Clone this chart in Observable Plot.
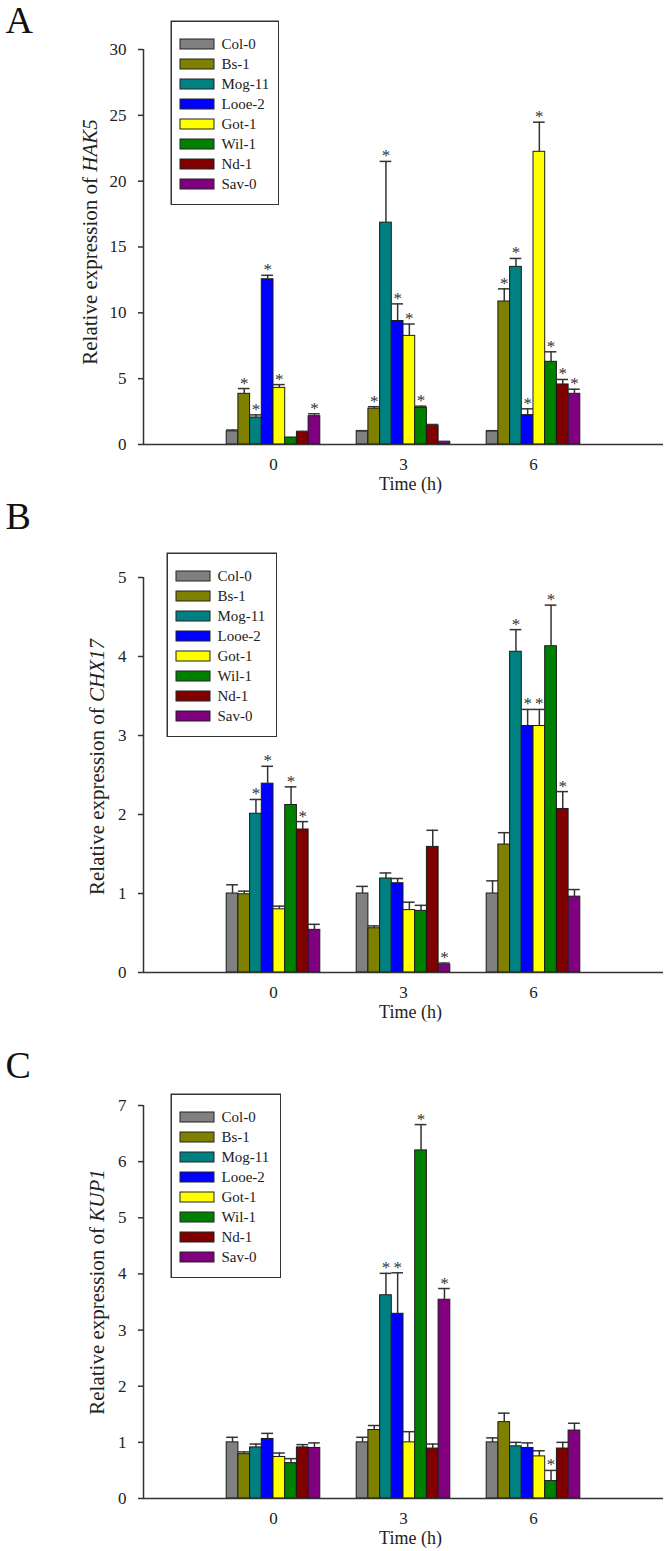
<!DOCTYPE html>
<html><head><meta charset="utf-8">
<script src="https://cdn.jsdelivr.net/npm/d3@7"></script>
<script src="https://cdn.jsdelivr.net/npm/@observablehq/plot@0.6"></script>
<style>
html,body{margin:0;padding:0;background:#fff;overflow:hidden;}
.panel{position:relative;width:672px;}
.panel svg{display:block;}
</style></head><body><div id="root"></div>
<script>
// ---------- data ----------
const times = [0, 3, 6];
const accessions = ["Col-0", "Bs-1", "Mog-11", "Looe-2", "Got-1", "Wil-1", "Nd-1", "Sav-0"];
const colors = ["#808080", "#808000", "#008080", "#0000ff", "#ffff00", "#008000", "#800000", "#800080"];

// HAK5 (rows: 0 h, 3 h, 6 h; columns: accessions)
const hak5Mean = [
  [1.0, 3.85, 2.05, 12.55, 4.3, 0.5, 0.95, 2.15],
  [1.0, 2.72, 16.85, 9.38, 8.25, 2.78, 1.42, 0.2],
  [1.0, 10.86, 13.49, 2.23, 22.23, 6.28, 4.56, 3.85]
];
const hak5Err = [
  [0.1, 0.4, 0.2, 0.3, 0.25, 0.05, 0.05, 0.18],
  [0.05, 0.15, 4.65, 1.3, 0.9, 0.13, 0.1, 0.03],
  [0.05, 0.96, 0.64, 0.48, 2.25, 0.76, 0.38, 0.35]
];
const hak5Sig = [
  [0, 1, 1, 1, 1, 0, 0, 1],
  [0, 1, 1, 1, 1, 1, 0, 0],
  [0, 1, 1, 1, 1, 1, 1, 1]
];
const hak5Ticks = [0, 5, 10, 15, 20, 25, 30];

// CHX17
const chx17Mean = [
  [1.0, 0.99, 2.01, 2.39, 0.8, 2.12, 1.81, 0.54],
  [1.0, 0.56, 1.19, 1.13, 0.79, 0.78, 1.59, 0.1],
  [1.0, 1.62, 4.06, 3.12, 3.12, 4.13, 2.07, 0.96]
];
const chx17Err = [
  [0.11, 0.04, 0.18, 0.22, 0.04, 0.23, 0.1, 0.07],
  [0.09, 0.03, 0.07, 0.06, 0.1, 0.07, 0.21, 0.02],
  [0.16, 0.15, 0.28, 0.21, 0.21, 0.52, 0.22, 0.09]
];
const chx17Sig = [
  [0, 0, 1, 1, 0, 1, 1, 0],
  [0, 0, 0, 0, 0, 0, 0, 1],
  [0, 0, 1, 1, 1, 1, 1, 0]
];
const chx17Ticks = [0, 1, 2, 3, 4, 5];

// KUP1
const kup1Mean = [
  [1.0, 0.79, 0.91, 1.06, 0.74, 0.63, 0.91, 0.9],
  [1.0, 1.22, 3.62, 3.29, 1.0, 6.2, 0.89, 3.54],
  [1.0, 1.36, 0.93, 0.9, 0.75, 0.31, 0.89, 1.21]
];
const kup1Err = [
  [0.09, 0.04, 0.06, 0.1, 0.07, 0.08, 0.05, 0.09],
  [0.09, 0.08, 0.39, 0.73, 0.19, 0.46, 0.08, 0.2],
  [0.08, 0.16, 0.07, 0.09, 0.1, 0.19, 0.11, 0.13]
];
const kup1Sig = [
  [0, 0, 0, 0, 0, 0, 0, 0],
  [0, 0, 1, 1, 0, 1, 0, 1],
  [0, 0, 0, 0, 0, 1, 0, 0]
];
const kup1Ticks = [0, 1, 2, 3, 4, 5, 6, 7];

// ---------- drawing ----------
const FONT = "'Liberation Serif', 'Times New Roman', Times, serif";
const barW = 0.27; // width of one bar in time units
const x1 = d => d.time + (d.i - 4) * barW;
const x2 = d => d.time + (d.i - 3) * barW;
const xc = d => d.time + (d.i - 3.5) * barW;

function rows(mean, err, sig) {
  return times.flatMap((t, ti) => accessions.map((acc, i) => ({
    time: t, acc, i, mean: mean[ti][i], err: err[ti][i], sig: sig[ti][i] === 1
  })));
}

function legend(left, top, w) {
  const svg = Plot.plot({
    width: w, height: 185, margin: 0, axis: null,
    style: {fontFamily: FONT, fontSize: "15px", background: "#fff", color: "#222"},
    x: {type: "identity"},
    y: {type: "band", domain: accessions, range: [6, 182], padding: 0.5},
    color: {domain: accessions, range: colors},
    marks: [
      Plot.barX(accessions, {y: d => d, x1: 10, x2: 44, fill: d => d, stroke: "#222", strokeWidth: 1}),
      Plot.text(accessions, {y: d => d, x: 51, text: d => d, textAnchor: "start", fill: "#222", fontSize: 15, fontFamily: FONT}),
      Plot.frame({stroke: "#333", strokeWidth: 1.5, inset: 0.75})
    ]
  });
  svg.style.position = "absolute";
  svg.style.left = left + "px";
  svg.style.top = top + "px";
  return svg;
}

function panel(cfg) {
  const data = rows(cfg.mean, cfg.err, cfg.sig);
  const label = "Relative expression of " + cfg.gene;
  const svg = Plot.plot({
    width: 672, height: cfg.height,
    marginLeft: 143, marginRight: 9, marginTop: cfg.mt, marginBottom: cfg.mb,
    style: {fontFamily: FONT, fontSize: "17px", color: "#222", background: "transparent", overflow: "visible"},
    x: {domain: [-3, 9]},
    y: {domain: [0, cfg.ticks[cfg.ticks.length - 1]]},
    color: {domain: accessions, range: colors},
    marks: [
      Plot.rect(data, {x1, x2, y1: 0, y2: "mean", fill: "acc", stroke: "#1a1a1a", strokeWidth: 1}),
      Plot.ruleX(data, {x: xc, y1: "mean", y2: d => d.mean + d.err, stroke: "#333", strokeWidth: 1.5}),
      Plot.ruleY(data, {y: d => d.mean + d.err, x1, x2, stroke: "#333", strokeWidth: 1.5}),
      Plot.text(data.filter(d => d.sig), {x: xc, y: d => d.mean + d.err, text: () => "*", lineAnchor: "bottom", fontSize: 17, fontFamily: FONT, fill: "#333"}),
      Plot.ruleY([0], {stroke: "#333", strokeWidth: 1.5}),
      Plot.ruleX([-3], {stroke: "#333", strokeWidth: 1.5}),
      Plot.axisY({ticks: cfg.ticks, tickFormat: d => String(d), tickSize: 5, tickPadding: 12, label: null, stroke: "#333", strokeWidth: 1.5, fill: "#222", fontSize: 17, fontFamily: FONT}),
      Plot.axisX({ticks: times, tickSize: 0, tickPadding: 13, label: null, tickFormat: d => String(d), fill: "#222", fontSize: 17, fontFamily: FONT}),
      Plot.text([cfg.letter], {frameAnchor: "top-left", dx: -138, dy: cfg.letterDy, textAnchor: "start", lineAnchor: "bottom", fontSize: 38, fontFamily: FONT, fill: "#111"}),
      Plot.text([label], {frameAnchor: "left", rotate: -90, dx: cfg.labelDx, dy: cfg.labelDy, textAnchor: "middle", lineAnchor: "bottom", fontSize: 21, fontFamily: FONT, fill: "#222"}),
      Plot.text(["Time (h)"], {frameAnchor: "bottom", dx: 7, dy: 45, textAnchor: "middle", lineAnchor: "bottom", fontSize: 18, fontFamily: FONT, fill: "#222"})
    ]
  });
  // italicise gene name in the y label
  svg.querySelectorAll("text").forEach(t => {
    if (t.textContent === label) {
      t.textContent = "Relative expression of ";
      const ts = document.createElementNS("http://www.w3.org/2000/svg", "tspan");
      ts.setAttribute("font-style", "italic");
      ts.textContent = cfg.gene;
      t.appendChild(ts);
    }
  });
  const div = document.createElement("div");
  div.className = "panel";
  div.style.height = cfg.height + "px";
  div.appendChild(svg);
  div.appendChild(legend(cfg.legend[0], cfg.legend[1], cfg.legend[2]));
  return div;
}

const root = document.getElementById("root");
root.appendChild(panel({letter: "A", gene: "HAK5", mean: hak5Mean, err: hak5Err, sig: hak5Sig, ticks: hak5Ticks,
  height: 500, mt: 49, mb: 56, letterDy: -17, labelDx: -47, labelDy: -5, legend: [170, 20, 109]}));
root.appendChild(panel({letter: "B", gene: "CHX17", mean: chx17Mean, err: chx17Err, sig: chx17Sig, ticks: chx17Ticks,
  height: 530, mt: 77, mb: 58, letterDy: -49, labelDx: -40, labelDy: -8, legend: [166, 52, 111]}));
root.appendChild(panel({letter: "C", gene: "KUP1", mean: kup1Mean, err: kup1Err, sig: kup1Sig, ticks: kup1Ticks,
  height: 521, mt: 75, mb: 53, letterDy: -28, labelDx: -40, labelDy: -10, legend: [170, 63, 111]}));
</script>
</body></html>
